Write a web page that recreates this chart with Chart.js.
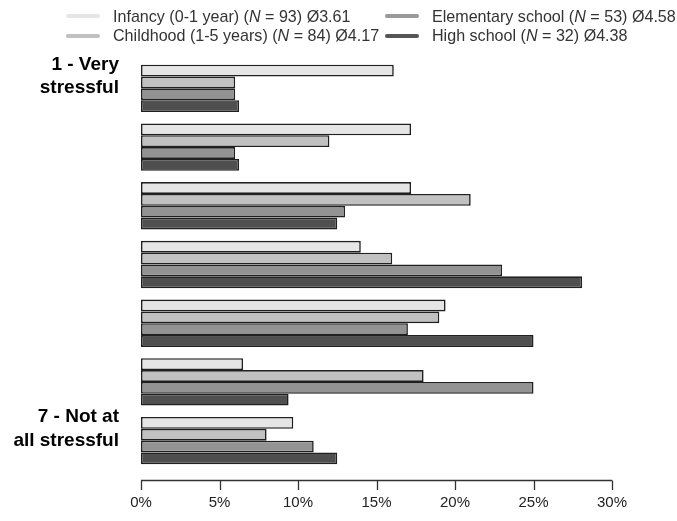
<!DOCTYPE html>
<html>
<head>
<meta charset="utf-8">
<script src="https://cdn.jsdelivr.net/npm/chart.js@4/dist/chart.umd.min.js"></script>
<style>
  html, body { margin: 0; padding: 0; background: #fff; }
  #wrap { position: relative; width: 677px; height: 521px; }
  #legend { position: absolute; left: 0; top: 0; width: 677px; height: 50px;
            font: 16.1px "Liberation Sans", Arial, sans-serif; color: #333; }
  .item { position: absolute; display: flex; align-items: center; white-space: nowrap; height: 20px; }
  .swatch { display: inline-block; width: 34px; height: 4px; border-radius: 2px; margin-right: 13px; }
</style>
</head>
<body>
<div id="wrap">
  <canvas id="c" width="677" height="521"></canvas>
  <div id="legend"></div>
</div>
<script>
// Rating scale categories (1 = very stressful ... 7 = not at all stressful)
const categories = ['1 - Very stressful', '2', '3', '4', '5', '6', '7 - Not at all stressful'];
const tickLabels = [['1 - Very', 'stressful'], '', '', '', '', '', ['7 - Not at', 'all stressful']];

// Age groups
const seriesNames = ['Infancy (0-1 year)', 'Childhood (1-5 years)', 'Elementary school', 'High school'];
const seriesN = [93, 84, 53, 32];
const seriesMean = ['3.61', '4.17', '4.58', '4.38'];

// Share of answers per rating (%)
const infancy    = [16.1, 17.2, 17.2, 14.0, 19.4, 6.5, 9.7];
const childhood  = [6.0, 12.0, 21.0, 16.0, 19.0, 18.0, 8.0];
const elementary = [6.0, 6.0, 13.0, 23.0, 17.0, 25.0, 11.0];
const highSchool = [6.25, 6.25, 12.5, 28.1, 25.0, 9.4, 12.5];

const xTicks = [0, 5, 10, 15, 20, 25, 30];

const fills = ['#e5e5e5', '#c1c1c1', '#939393', '#4f4f4f'];
const swatches = ['#e6e6e6', '#c0c0c0', '#999999', '#555555'];
const seriesValues = [infancy, childhood, elementary, highSchool];

Chart.defaults.font.family = '"Liberation Sans", Arial, sans-serif';

// Axis line with tick marks, set slightly below the plotting area
const detachedAxis = {
  id: 'detachedAxis',
  afterDraw(chart) {
    const sx = chart.scales.x;
    const ctx = chart.ctx;
    const y0 = chart.chartArea.bottom + 10.5;
    ctx.save();
    ctx.strokeStyle = '#333';
    ctx.lineWidth = 1.3;
    ctx.beginPath();
    ctx.moveTo(sx.getPixelForValue(xTicks[0]), y0);
    ctx.lineTo(sx.getPixelForValue(xTicks[xTicks.length - 1]), y0);
    sx.ticks.forEach(t => {
      const px = Math.round(sx.getPixelForValue(t.value)) + 0.5;
      ctx.moveTo(px, y0);
      ctx.lineTo(px, y0 + 9.5);
    });
    ctx.stroke();
    ctx.restore();
  }
};

const chart = new Chart(document.getElementById('c'), {
  type: 'bar',
  data: {
    labels: categories,
    datasets: seriesNames.map((name, i) => ({
      label: name,
      data: seriesValues[i],
      backgroundColor: fills[i],
      borderColor: '#202020',
      borderWidth: 1.6,
      borderSkipped: false,
      categoryPercentage: 0.806,
      barPercentage: 1.0
    }))
  },
  options: {
    indexAxis: 'y',
    responsive: false,
    animation: false,
    layout: { padding: { top: 59, right: 65, left: 0, bottom: 0 } },
    plugins: { legend: { display: false }, tooltip: { enabled: false } },
    scales: {
      x: {
        min: xTicks[0],
        max: xTicks[xTicks.length - 1],
        afterFit(s) { s.height = 51; },
        afterBuildTicks(s) { s.ticks = xTicks.map(v => ({ value: v })); },
        grid: { display: false, drawTicks: false },
        border: { display: false },
        ticks: {
          padding: 24,
          color: '#222',
          font: { size: 15 },
          callback: v => v + '%'
        }
      },
      y: {
        afterFit(s) { s.width = 141; },
        grid: { display: false, drawTicks: false },
        border: { display: false },
        ticks: {
          padding: 22,
          color: '#000',
          labelOffset: -12,
          font: { size: 19, weight: 'bold', lineHeight: 1.23 },
          callback: (v, i) => tickLabels[i]
        }
      }
    }
  },
  plugins: [detachedAxis]
});

// Two-column legend, filled column by column
const legend = document.getElementById('legend');
const colX = [66, 385];
const rowY = [16, 35.5];
seriesNames.forEach((name, i) => {
  const col = Math.floor(i / 2), row = i % 2;
  const el = document.createElement('div');
  el.className = 'item';
  el.style.left = colX[col] + 'px';
  el.style.top = (rowY[row] - 10) + 'px';
  el.innerHTML = '<span class="swatch" style="background:' + swatches[i] + '"></span>' +
    '<span>' + name + ' (<i>N</i> = ' + seriesN[i] + ') \u00D8' + seriesMean[i] + '</span>';
  legend.appendChild(el);
});
</script>
</body>
</html>
